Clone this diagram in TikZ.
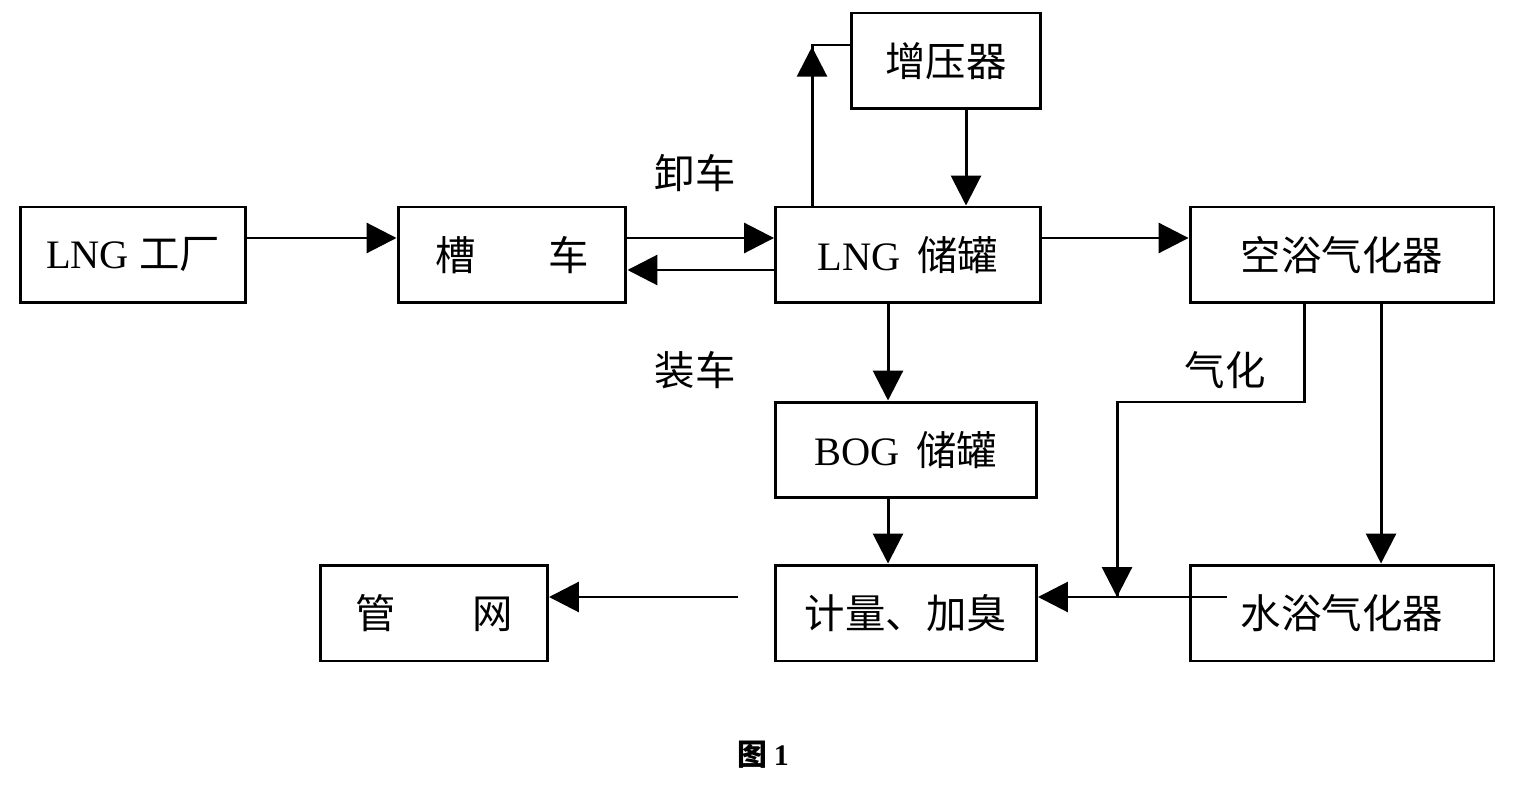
\documentclass[tikz,border=0pt]{standalone}
\usepackage{fontspec}
\setmainfont{Liberation Serif}
\newfontfamily\cjk{Noto Sans CJK SC}
\usetikzlibrary{arrows.meta}
\begin{document}
\begin{tikzpicture}[x=0.02cm,y=-0.02cm,
  box/.style={draw,line width=1.7pt,minimum height=1.92cm,inner sep=0pt,font=\fontsize{23}{27}\selectfont},
  conn/.style={line width=1.7pt},
  arr/.style={conn,-{Triangle[length=17pt,width=17pt]}},
  lbl/.style={font=\cjk\fontsize{23}{27}\selectfont}]
\useasboundingbox (0,0) rectangle (1530,793);
% boxes
\node[box,minimum width=4.52cm] (fac) at (133,255) {LNG {\cjk 工厂}};
\node[box,minimum width=4.56cm] (tank) at (512,255) {\cjk 槽\hspace{1.8em}车};
\node[box,minimum width=5.30cm] (lng) at (908,255) {LNG\hspace{0.4em}{\cjk 储罐}};
\node[box,minimum width=6.08cm] (air) at (1342,255) {\cjk 空浴气化器};
\node[box,minimum width=3.78cm] (boost) at (946,61) {\cjk 增压器};
\node[box,minimum width=5.22cm] (bog) at (906,450) {BOG\hspace{0.4em}{\cjk 储罐}};
\node[box,minimum width=5.22cm] (meter) at (906,613) {\cjk 计量、加臭};
\node[box,minimum width=6.08cm] (water) at (1342,613) {\cjk 水浴气化器};
\node[box,minimum width=4.54cm] (grid) at (434,613) {\cjk 管\hspace{1.9em}网};
% labels
\node[lbl] (l1) at (695,173) {卸车};
\node[lbl] (l2) at (695,370) {装车};
\node[lbl] (l3) at (1225,370) {气化};
\node[font=\cjk\bfseries\fontsize{17}{20}\selectfont] (cap) at (763,755) {图 {\rmfamily\bfseries 1}};
% coordinates
\coordinate (c1) at (812,45);
\coordinate (c2) at (1304,402);
\coordinate (c3) at (1117,402);
\coordinate (c4) at (1117,597);
\coordinate (c5) at (1227,597);
\coordinate (c6) at (738,597);
% connectors
\draw[arr] (fac.east |- 0,238) -- (tank.west |- 0,238);
\draw[arr] (tank.east |- 0,238) -- (lng.west |- 0,238);
\draw[arr] (lng.west |- 0,270) -- (tank.east |- 0,270);
\draw[conn] (lng.north -| c1) -- (c1) -- (boost.west |- c1);
\draw[arr] (lng.north -| c1) -- ([yshift=-1pt]c1);
\draw[arr] (boost.south -| 966,0) -- (lng.north -| 966,0);
\draw[arr] (lng.east |- 0,238) -- (air.west |- 0,238);
\draw[arr] (lng.south -| 888,0) -- (bog.north -| 888,0);
\draw[arr] (bog.south -| 888,0) -- (meter.north -| 888,0);
\draw[arr] (air.south -| 1381,0) -- (water.north -| 1381,0);
\draw[conn] (air.south -| c2) -- (c2) -- (c3) -- (c4);
\draw[arr] (c3) -- (c4);
\draw[arr] (c5) -- (meter.east |- c5);
\draw[arr] (c6) -- (grid.east |- c6);
\end{tikzpicture}
\end{document}
